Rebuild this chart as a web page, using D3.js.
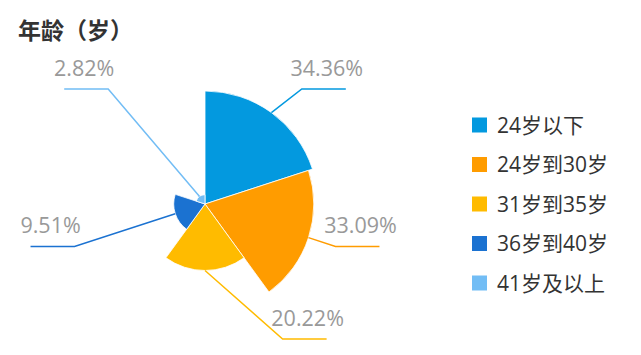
<!DOCTYPE html>
<html>
<head>
<meta charset="utf-8">
<script src="https://cdn.jsdelivr.net/npm/d3@7"></script>
<style>
	body { margin: 0; background: #fff; }
	svg { display: block; }
</style>
</head>
<body>
<svg id="chart" width="641" height="355"></svg>
<script>
(function(){
	"use strict";

	// data
	var categories = ["24岁以下", "24岁到30岁", "31岁到35岁", "36岁到40岁", "41岁及以上"];
	var values = [34.36, 33.09, 20.22, 9.51, 2.82];
	var colors = ["#0399df", "#ff9c00", "#ffbb00", "#1b72d1", "#72bdf5"];

	var width = 641, height = 355;
	var cx = 205, cy = 204, max_radius = 113;
	var line_rx = 135, line_ry = 165;   // ellipse the label lines bend on
	var line_len2 = 44;
	var label_top = cy - 115, label_bottom = cy + 135;

	var label_font = "'Open Sans','Noto Sans CJK SC',sans-serif";

	var svg = d3.select("#chart");

	var items = categories.map(function(c, i){
		return {name: c, value: values[i], color: colors[i]};
	});

	// title
	svg.append("text")
		.attr("x", 18).attr("y", 39)
		.attr("font-family", "'Noto Sans CJK SC',sans-serif")
		.attr("font-weight", "bold")
		.attr("font-size", 23)
		.attr("fill", "#333")
		.text("年龄（岁）");

	/////////////////////////////////////////////
	// rose (area mode): equal angles, radius by value
	var r_scale = d3.scaleLinear()
		.domain([0, d3.max(values)])
		.range([0, max_radius]);

	var pie = d3.pie().sort(null).value(function(){ return 1; });
	var arcs = pie(items);

	var arc = d3.arc()
		.innerRadius(0)
		.outerRadius(function(d){ return r_scale(d.data.value); });

	var g = svg.append("g").attr("transform", "translate(" + cx + "," + cy + ")");

	g.selectAll("path.slice")
		.data(arcs)
		.enter().append("path")
		.attr("class", "slice")
		.attr("d", arc)
		.attr("fill", function(d){ return d.data.color; })
		.attr("stroke", "#fff")
		.attr("stroke-width", 0.8);

	/////////////////////////////////////////////
	// label lines
	function label_points(d){
		var mid = (d.startAngle + d.endAngle) / 2;
		var sx = Math.sin(mid), sy = -Math.cos(mid);
		var r = r_scale(d.data.value);
		var right = mid <= Math.PI;
		var p1 = [sx * r, sy * r];
		var t = 1 / Math.sqrt(sx * sx / (line_rx * line_rx) + sy * sy / (line_ry * line_ry));
		var bx = sx * t, by = sy * t;
		var y_abs = Math.max(label_top, Math.min(label_bottom, cy + by));
		if (y_abs !== cy + by) {
			by = y_abs - cy;
			bx = (right ? 1 : -1) * line_rx * Math.sqrt(Math.max(0, 1 - by * by / (line_ry * line_ry)));
		}
		var p2 = [bx, by];
		var p3 = [bx + (right ? line_len2 : -line_len2), by];
		return {p1: p1, p2: p2, p3: p3, right: right};
	}

	var labels = g.selectAll("g.label")
		.data(arcs)
		.enter().append("g")
		.attr("class", "label");

	labels.append("polyline")
		.attr("points", function(d){
			var p = label_points(d);
			return [p.p1, p.p2, p.p3].map(function(q){ return q.join(","); }).join(" ");
		})
		.attr("fill", "none")
		.attr("stroke", function(d){ return d.data.color; })
		.attr("stroke-width", 1.5);

	labels.append("text")
		.attr("x", function(d){
			var p = label_points(d);
			return (p.p2[0] + p.p3[0]) / 2 + (p.right ? 3 : -2);
		})
		.attr("y", function(d){ return label_points(d).p2[1] - 13; })
		.attr("text-anchor", "middle")
		.attr("font-family", label_font)
		.attr("font-size", 21.5)
		.attr("fill", "#999")
		.text(function(d){ return d3.format(".2f")(d.data.value) + "%"; });

	/////////////////////////////////////////////
	// legend
	var legend_y = d3.scalePoint()
		.domain(categories)
		.range([125, 283]);

	var legend = svg.append("g").attr("class", "legend")
		.selectAll("g")
		.data(items)
		.enter().append("g")
		.attr("transform", function(d){ return "translate(472," + legend_y(d.name) + ")"; });

	legend.append("rect")
		.attr("x", 0).attr("y", -7.5)
		.attr("width", 15).attr("height", 15)
		.attr("fill", function(d){ return d.color; });

	legend.append("text")
		.attr("x", 25).attr("y", 0)
		.attr("dy", "0.36em")
		.attr("font-family", label_font)
		.attr("font-size", 21)
		.attr("fill", "#333")
		.text(function(d){ return d.name; });
})();
</script>
</body>
</html>
